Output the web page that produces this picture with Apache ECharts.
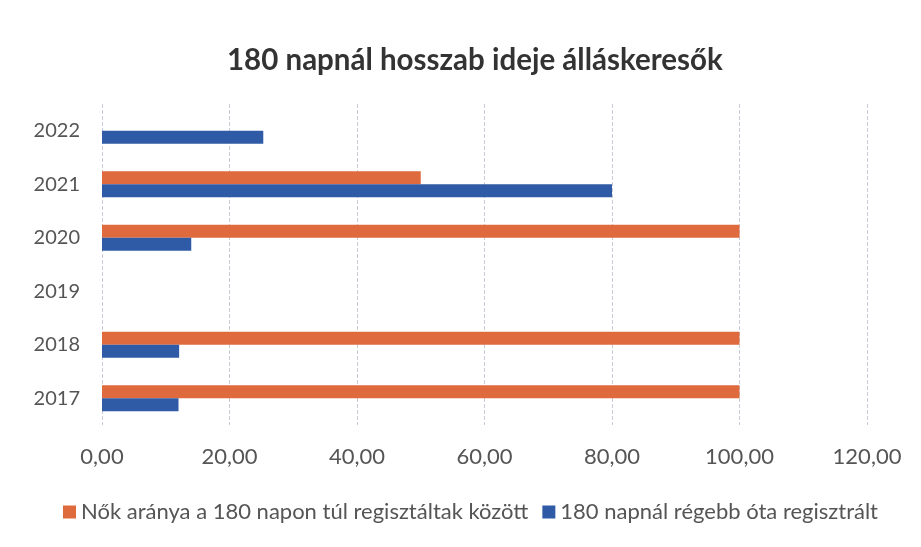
<!DOCTYPE html>
<html><head><meta charset="utf-8">
<script src="https://cdn.jsdelivr.net/npm/echarts@6/dist/echarts.min.js"></script>
<style>html,body{margin:0;padding:0;background:#fff}#c{width:921px;height:547px}</style>
</head><body><div id="c"></div>
<script>
const categories = ['2017','2018','2019','2020','2021','2022'];
const womenShare = [100, 100, null, 100, 50, null];
const over180 = [12, 12.1, null, 14, 80, 25.3];
const xTicks = [0, 20, 40, 60, 80, 100, 120];
const seriesNames = ['Nők aránya a 180 napon túl regisztáltak között', '180 napnál régebb óta regisztrált'];
const font = 'Lato, "Open Sans", sans-serif';
const chart = echarts.init(document.getElementById('c'));
chart.setOption({
  backgroundColor: '#fff',
  title: {text: '180 napnál hosszab ideje álláskeresők', left: 222, top: 40,
    textStyle: {fontFamily: font, fontSize: 29.5, fontWeight: 'bold', color: '#333'}},
  legend: {top: 496, left: 58, itemWidth: 13, itemHeight: 13, itemGap: 14,
    icon: 'rect', textStyle: {fontFamily: font, fontSize: 22, color: '#555'},
    data: seriesNames},
  grid: {left: 102, right: 54, top: 104, bottom: 122, containLabel: false},
  xAxis: {type: 'value', min: xTicks[0], max: xTicks[xTicks.length-1], interval: 20,
    axisLine: {show: false}, axisTick: {show: false},
    axisLabel: {fontFamily: font, fontSize: 22, color: '#555', margin: 21,
      formatter: v => v.toFixed(2).replace('.', ',')},
    splitLine: {show: true, lineStyle: {color: '#c9cdd8', type: 'dashed', width: 1}}},
  yAxis: {type: 'category', data: categories,
    axisLine: {show: false}, axisTick: {show: false},
    axisLabel: {fontFamily: font, fontSize: 20, color: '#555', margin: 22}},
  series: [
    {name: seriesNames[0], type: 'bar', data: womenShare, barWidth: 13, barGap: '0%',
      itemStyle: {color: '#DE6A3E'}},
    {name: seriesNames[1], type: 'bar', data: over180, barWidth: 13, barGap: '0%',
      itemStyle: {color: '#2F5AA6'}}
  ]
});
</script></body></html>
